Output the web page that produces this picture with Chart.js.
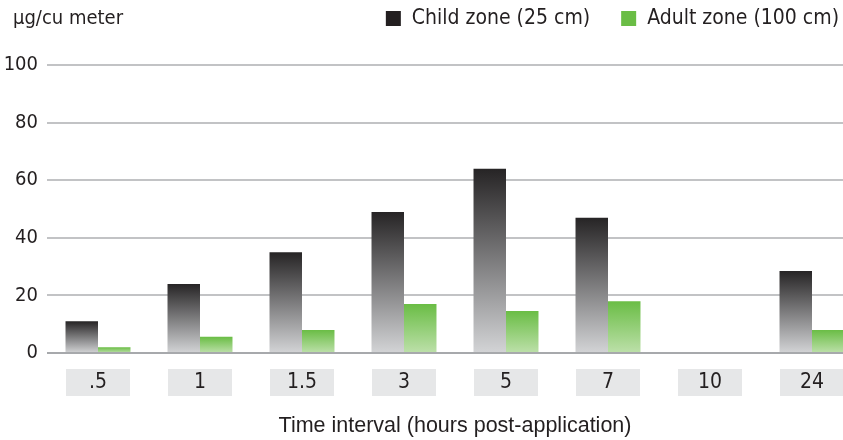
<!DOCTYPE html>
<html>
<head>
<meta charset="utf-8">
<script src="https://cdn.jsdelivr.net/npm/chart.js@4.4.1/dist/chart.umd.min.js"></script>
<style>
  html, body { margin: 0; padding: 0; background: #fff; overflow: hidden; }
  #wrap { width: 863px; height: 440px; }
</style>
</head>
<body>
<div id="wrap"><canvas id="chart" width="863" height="440"></canvas></div>
<script>
// chart data
const categories = [".5", "1", "1.5", "3", "5", "7", "10", "24"];
const childZone = [11, 24, 35, 49, 64, 47, null, 28.5];
const adultZone = [2, 5.6, 8, 17, 14.6, 18, null, 8];
const yTicks = [0, 20, 40, 60, 80, 100];
const seriesNames = ["Child zone (25 cm)", "Adult zone (100 cm)"];
const yTitle = "μg/cu meter";
const xTitle = "Time interval (hours post-application)";

const seriesColors = ["#231f20", "#6abd45"];
const condensed = "'Liberation Sans Narrow', 'DejaVu Sans Condensed', sans-serif";
const textColor = "#231f20";

// each bar fades from dark at its top to light at the base
const barGradient = (top, bottom) => (context) => {
    const chart = context.chart;
    if (!chart.chartArea || context.type !== "data" || context.raw == null) return top;
    const y = chart.scales.y;
    const g = chart.ctx.createLinearGradient(0, y.getPixelForValue(context.raw), 0, y.getPixelForValue(0));
    g.addColorStop(0, top);
    g.addColorStop(1, bottom);
    return g;
};

// grey boxes behind the category labels
const labelBoxes = {
    id: "labelBoxes",
    beforeDraw(chart) {
        const { ctx, scales: { x } } = chart;
        ctx.save();
        ctx.fillStyle = "#e6e7e8";
        categories.forEach((c, i) => {
            const cx = x.getPixelForTick(i);
            ctx.fillRect(cx - 32, 369, 64, 27);
        });
        ctx.restore();
    }
};

// axis unit and legend along the top
const header = {
    id: "header",
    afterDraw(chart) {
        const ctx = chart.ctx;
        ctx.save();
        ctx.fillStyle = textColor;
        ctx.textBaseline = "middle";
        ctx.font = "20px " + condensed;
        ctx.fillText(yTitle, 13, 19);

        ctx.font = "21px " + condensed;
        let x = 839;
        for (let i = seriesNames.length - 1; i >= 0; i--) {
            const w = ctx.measureText(seriesNames[i]).width;
            const tx = x - w;
            ctx.fillStyle = textColor;
            ctx.fillText(seriesNames[i], tx, 19);
            ctx.fillStyle = seriesColors[i];
            ctx.fillRect(tx - 26, 11, 15, 15);
            x = tx - 26 - 31;
        }
        ctx.restore();
    }
};

new Chart(document.getElementById("chart"), {
    type: "bar",
    data: {
        labels: categories,
        datasets: [
            {
                label: seriesNames[0],
                data: childZone,
                backgroundColor: barGradient("#262425", "#d3d4d6"),
                barPercentage: 1,
                categoryPercentage: 0.637
            },
            {
                label: seriesNames[1],
                data: adultZone,
                backgroundColor: barGradient("#6abd45", "#bde0aa"),
                barPercentage: 1,
                categoryPercentage: 0.637
            }
        ]
    },
    options: {
        responsive: false,
        animation: false,
        layout: { padding: { top: 65, right: 0, bottom: 1, left: 0 } },
        plugins: {
            legend: { display: false },
            tooltip: { enabled: false }
        },
        scales: {
            x: {
                grid: { display: false, drawTicks: false },
                border: { display: false },
                ticks: {
                    color: textColor,
                    font: { family: condensed, size: 21 },
                    padding: 17,
                    maxRotation: 0
                },
                title: {
                    display: true,
                    text: xTitle,
                    color: textColor,
                    font: { family: "'Liberation Sans', sans-serif", size: 21.5 },
                    padding: 0
                },
                afterFit(scale) { scale.height = 86; }
            },
            y: {
                min: 0,
                max: 100,
                afterBuildTicks(scale) { scale.ticks = yTicks.map(v => ({ value: v })); },
                grid: {
                    drawTicks: false,
                    lineWidth: 2,
                    color: ctx => ctx.tick && ctx.tick.value === 0 ? "#a7a9ac" : "#c2c3c5"
                },
                border: { display: false },
                ticks: {
                    color: textColor,
                    font: { family: condensed, size: 20 },
                    padding: 9
                },
                afterFit(scale) { scale.width = 47; }
            }
        }
    },
    plugins: [labelBoxes, header]
});
</script>
</body>
</html>
